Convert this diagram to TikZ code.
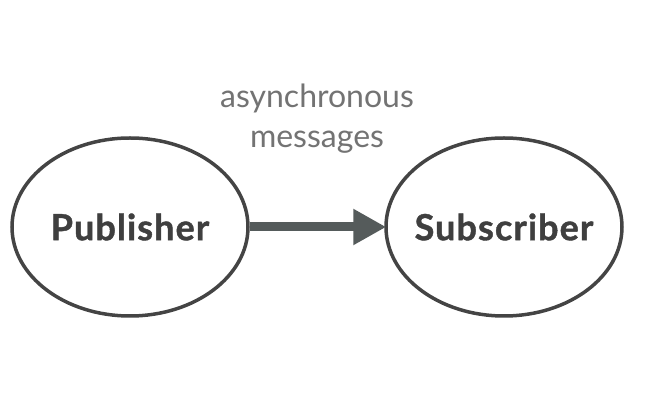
\documentclass[tikz,border=0pt]{standalone}
\usepackage{fontspec}
\setmainfont{Lato}
\usetikzlibrary{shapes.geometric,arrows.meta}
\definecolor{edge}{HTML}{444444}
\definecolor{arrowc}{HTML}{555B5B}
\definecolor{labelc}{HTML}{737373}
\definecolor{textc}{HTML}{3F3F3F}
\newcommand{\zw}[1]{\makebox[0pt]{#1}}
\tikzset{
  px/.style={x=1pt,y=-1pt},
  actor/.style={ellipse, draw=edge, line width=3.5pt, minimum width=236pt, minimum height=178pt, inner sep=0pt,
    font=\fontsize{36}{40}\selectfont\bfseries\addfontfeatures{LetterSpace=3,FakeBold=1.2}, text=textc},
  flow/.style={draw=arrowc, line width=9pt, -{Triangle[length=33pt,width=34pt]}, shorten >=-2pt},
  note/.style={font=\fontsize{32}{40}\selectfont, text=labelc, align=center}
}
\begin{document}
\begin{tikzpicture}[px]
\useasboundingbox (0,0) rectangle (654,411);
\node[actor] (pub) at (130,227) {\zw{Publisher}};
\node[actor] (sub) at (504,227) {\zw{Subscriber}};
\draw[flow] (pub.east) -- (sub.west);
\node[note] (lbl) at (317,119) {asynchronous\\messages};
\end{tikzpicture}
\end{document}
